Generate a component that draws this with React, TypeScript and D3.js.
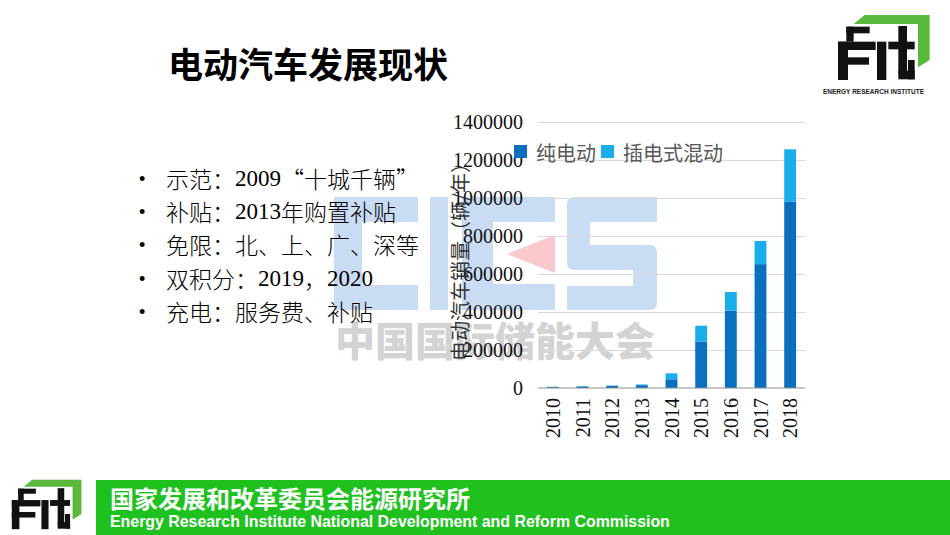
import { useRef, useEffect } from "react";
import * as d3 from "d3";

// chart data
const years = ["2010", "2011", "2012", "2013", "2014", "2015", "2016", "2017", "2018"];
const bevSales = [5000, 8000, 11500, 15000, 46000, 245000, 407000, 652000, 982000];
const phevSales = [1500, 2600, 1500, 3500, 31000, 83000, 98000, 122000, 274000];
const yTicks = [0, 200000, 400000, 600000, 800000, 1000000, 1200000, 1400000];
const seriesNames = ["纯电动", "插电式混动"];
const seriesColors = ["#0b6fc0", "#19adea"];

const bullets = [
  "示范：2009“十城千辆”",
  "补贴：2013年购置补贴",
  "免限：北、上、广、深等",
  "双积分：2019，2020",
  "充电：服务费、补贴",
];

const SERIF = "'Liberation Serif', 'Times New Roman', 'Noto Sans CJK SC', serif";
const CJK = "'Noto Sans CJK SC', 'Noto Sans', sans-serif";
const SANS = "'Liberation Sans', Arial, sans-serif";

// split a line into latin/digit runs (serif) and the rest (CJK font)
function runs(s: string) {
  const out: { t: string; latin: boolean }[] = [];
  for (const ch of s) {
    const latin = /[0-9A-Za-z]/.test(ch);
    const last = out[out.length - 1];
    if (last && last.latin === latin) last.t += ch;
    else out.push({ t: ch, latin });
  }
  return out;
}

// logo drawn in its own unit box
function Logo({ x, y, s }: { x: number; y: number; s: number }) {
  const k = 1 / 3;
  const r = (x0: number, y0: number, x1: number, y1: number, key: string) => (
    <rect key={key} x={x0 * k} y={y0 * k} width={(x1 - x0) * k} height={(y1 - y0) * k} fill="#111" />
  );
  return (
    <g transform={`translate(${x},${y}) scale(${s})`}>
      <polygon
        points={[[95, 15], [290, 15], [290, 150], [255, 172], [255, 42], [62, 42]]
          .map((p) => `${p[0] * k},${p[1] * k}`)
          .join(" ")}
        fill="#5ab83c"
      />
      {r(15, 95, 45, 210, "a")}
      {r(15, 95, 128, 120, "b")}
      {r(15, 142, 108, 164, "c")}
      {r(40, 50, 110, 70, "d")}
      {r(40, 50, 62, 95, "d2")}
      {r(132, 95, 160, 210, "f")}
      {r(196, 48, 222, 190, "g")}
      {r(166, 95, 245, 118, "h")}
      {r(196, 182, 245, 208, "i")}
      {r(225, 150, 245, 208, "j")}
    </g>
  );
}

function Watermark() {
  const blue = "#c9dcf4";
  return (
    <g>
      {/* C */}
      <rect x={334} y={197} width={84} height={25} fill={blue} />
      <rect x={334} y={197} width={28} height={113} fill={blue} />
      <rect x={334} y={285} width={84} height={25} fill={blue} />
      {/* I */}
      <rect x={430} y={197} width={18} height={113} fill={blue} />
      {/* E */}
      <rect x={462} y={197} width={93} height={25} fill={blue} />
      <rect x={462} y={197} width={31} height={113} fill={blue} />
      <rect x={462} y={284} width={93} height={26} fill={blue} />
      <polygon points="507,254 555,235 555,273" fill="#f9c9cd" />
      {/* S */}
      <path
        d="M575,197 H657 V222 H590 V245 H649 Q657,245 657,253 V302 Q657,310 649,310 H567 V286 H633 V270 H575 Q567,270 567,262 V205 Q567,197 575,197 Z"
        fill={blue}
      />
      <text
        x={335}
        y={339}
        dominantBaseline="central"
        fontFamily={CJK}
        fontWeight={900}
        fontSize={40}
        fill="#d3d3d3"
      >
        中国国际储能大会
      </text>
    </g>
  );
}

export default function App() {
  const chartRef = useRef<SVGGElement>(null);

  useEffect(() => {
    if (!chartRef.current) return;
    const g = d3.select(chartRef.current);
    g.selectAll("*").remove();

    const left = 538;
    const right = 805;
    const top = 122;
    const bottom = 388;

    const x = d3.scaleBand<string>().domain(years).range([left, right]).paddingInner(0.6).paddingOuter(0.3);
    const y = d3.scaleLinear().domain([0, 1400000]).range([bottom, top]);

    // grid
    const grid = g
      .append("g")
      .attr("transform", `translate(${left},0)`)
      .call(d3.axisLeft(y).tickValues(yTicks.slice(1)).tickSize(-(right - left)).tickFormat(() => ""));
    grid.select(".domain").remove();
    grid.selectAll("line").attr("stroke", "#d9d9d9").attr("stroke-width", 1);

    const table = years.map((yr, i) => ({ year: yr, bev: bevSales[i], phev: phevSales[i] }));
    const stack = d3.stack<(typeof table)[0]>().keys(["bev", "phev"]);
    const layers = stack(table);

    layers.forEach((layer, li) => {
      g.append("g")
        .selectAll("rect")
        .data(layer)
        .join("rect")
        .attr("x", (d) => x(d.data.year) || 0)
        .attr("width", x.bandwidth())
        .attr("y", (d) => y(d[1]))
        .attr("height", (d) => y(d[0]) - y(d[1]))
        .attr("fill", seriesColors[li]);
    });

    // zero line
    g.append("line")
      .attr("x1", left)
      .attr("x2", right)
      .attr("y1", y(0))
      .attr("y2", y(0))
      .attr("stroke", "#8c8c8c")
      .attr("stroke-width", 1);

    // y labels
    const yAxis = g
      .append("g")
      .attr("transform", `translate(${left},0)`)
      .call(d3.axisLeft(y).tickValues(yTicks).tickSize(0).tickPadding(15).tickFormat((d) => String(d)));
    yAxis.select(".domain").remove();
    yAxis
      .selectAll("text")
      .attr("fill", "#111")
      .style("font-family", SERIF)
      .style("font-size", "20px");

    // x labels
    const xAxis = g
      .append("g")
      .attr("transform", `translate(0,${bottom})`)
      .call(d3.axisBottom(x).tickSize(0));
    xAxis.select(".domain").remove();
    xAxis
      .selectAll("text")
      .attr("y", 0)
      .attr("x", -10)
      .attr("dy", "0.35em")
      .attr("transform", "rotate(-90)")
      .attr("fill", "#111")
      .style("text-anchor", "end")
      .style("font-family", SERIF)
      .style("font-size", "20px");

    // y title
    g.append("text")
      .attr("transform", "translate(459,257) rotate(-90)")
      .attr("text-anchor", "middle")
      .attr("dominant-baseline", "central")
      .attr("fill", "#333")
      .style("font-family", CJK)
      .style("font-size", "20px")
      .text("电动汽车销量（辆/年）");

    // legend
    const legendX = [514, 601];
    seriesNames.forEach((name, i) => {
      g.append("rect")
        .attr("x", legendX[i])
        .attr("y", 145)
        .attr("width", 13)
        .attr("height", 13)
        .attr("fill", seriesColors[i]);
      g.append("text")
        .attr("x", legendX[i] + 22)
        .attr("y", 152)
        .attr("dominant-baseline", "central")
        .attr("fill", "#595959")
        .style("font-family", CJK)
        .style("font-size", "20px")
        .text(name);
    });
  }, []);

  return (
    <div style={{ position: "fixed", left: 0, top: 0, width: 950, height: 535, background: "#fff" }}>
      <svg width={950} height={535} style={{ display: "block" }}>
        <rect width={950} height={535} fill="#fff" />
        <Watermark />

        <text x={168} y={62} dominantBaseline="central" fontFamily={CJK} fontWeight={700} fontSize={35} fill="#000">
          电动汽车发展现状
        </text>

        {bullets.map((b, i) => (
          <g key={b}>
            <text x={139} y={179 + i * 33.2} dominantBaseline="central" fontFamily={SANS} fontSize={18} fill="#000">
              •
            </text>
            <text x={166} y={178 + i * 33.2} dominantBaseline="central" fontSize={23} fill="#000">
              {runs(b).map((r, j) => (
                <tspan key={j} fontFamily={r.latin ? SERIF : CJK} fontWeight={r.latin ? 400 : 300}>
                  {r.t}
                </tspan>
              ))}
            </text>
          </g>
        ))}

        <g ref={chartRef} />

        <Logo x={833} y={10} s={1} />
        <text x={823} y={91} dominantBaseline="central" fontFamily={SANS} fontWeight={700} fontSize={6.5} fill="#222">
          ENERGY RESEARCH INSTITUTE
        </text>

        <rect x={96} y={480} width={854} height={55} fill="#1fc11f" />
        <Logo x={8} y={476} s={0.76} />
        <text x={110} y={497} dominantBaseline="central" fontFamily={CJK} fontWeight={700} fontSize={24} fill="#fff">
          国家发展和改革委员会能源研究所
        </text>
        <text x={110} y={521} dominantBaseline="central" fontFamily={SANS} fontWeight={700} fontSize={15.9} fill="#fff">
          Energy Research Institute National Development and Reform Commission
        </text>
      </svg>
    </div>
  );
}
